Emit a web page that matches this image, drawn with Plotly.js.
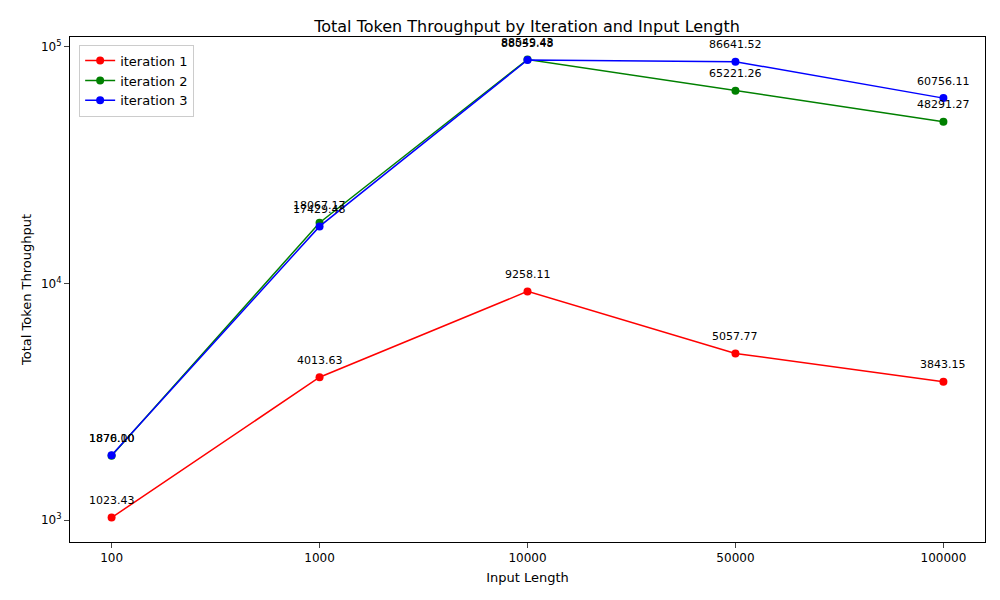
<!DOCTYPE html>
<html><head><meta charset="utf-8">
<script src="https://cdn.plot.ly/plotly-3.0.0.min.js"></script>
<style>body{margin:0}</style></head>
<body><div id="chart" style="width:1000px;height:600px"></div>
<script>
const inputLengths = ['100', '1000', '10000', '50000', '100000'];
const iter1 = [1023.43, 4013.63, 9258.11, 5057.77, 3843.15];
const iter2 = [1870.10, 18067.17, 88549.43, 65221.26, 48291.27];
const iter3 = [1876.00, 17429.48, 88055.48, 86641.52, 60756.11];
const names = ['iteration 1', 'iteration 2', 'iteration 3'];
const colors = ['red', 'green', 'blue'];

const series = [iter1, iter2, iter3];
const traces = series.map((ys, i) => ({
  x: inputLengths, y: ys, name: names[i], type: 'scatter', mode: 'lines+markers',
  line: {color: colors[i], width: 1.5}, marker: {color: colors[i], size: 8}
}));
const annotations = [];
series.forEach(ys => ys.forEach((v, j) => annotations.push({
  x: j, y: Math.log10(v), text: v.toFixed(2), showarrow: false,
  yshift: 17, font: {size: 11, color: 'black'}
})));

Plotly.newPlot('chart', traces, {
  width: 1000, height: 600,
  margin: {l: 70, r: 15, t: 37, b: 58},
  font: {family: 'DejaVu Sans', color: 'black'},
  title: {text: 'Total Token Throughput by Iteration and Input Length', font: {size: 16}, y: 0.965, x: 0.527},
  xaxis: {title: {text: 'Input Length', font: {size: 13}, standoff: 8}, type: 'category', range: [-0.2, 4.2],
    showgrid: false, showline: true, mirror: true, linecolor: 'black', ticks: 'outside', tickfont: {size: 12}},
  yaxis: {title: {text: 'Total Token Throughput', font: {size: 13}, standoff: 6}, type: 'log', range: [2.907, 5.042],
    showgrid: false, showline: true, mirror: true, linecolor: 'black', ticks: 'outside',
    tickvals: [1000, 10000, 100000], ticktext: ['10<sup>3</sup>', '10<sup>4</sup>', '10<sup>5</sup>'], tickfont: {size: 12}},
  legend: {x: 0.01, y: 0.985, bordercolor: '#ccc', borderwidth: 1, bgcolor: 'white', font: {size: 13}},
  annotations: annotations
}, {displayModeBar: false});
</script></body></html>
